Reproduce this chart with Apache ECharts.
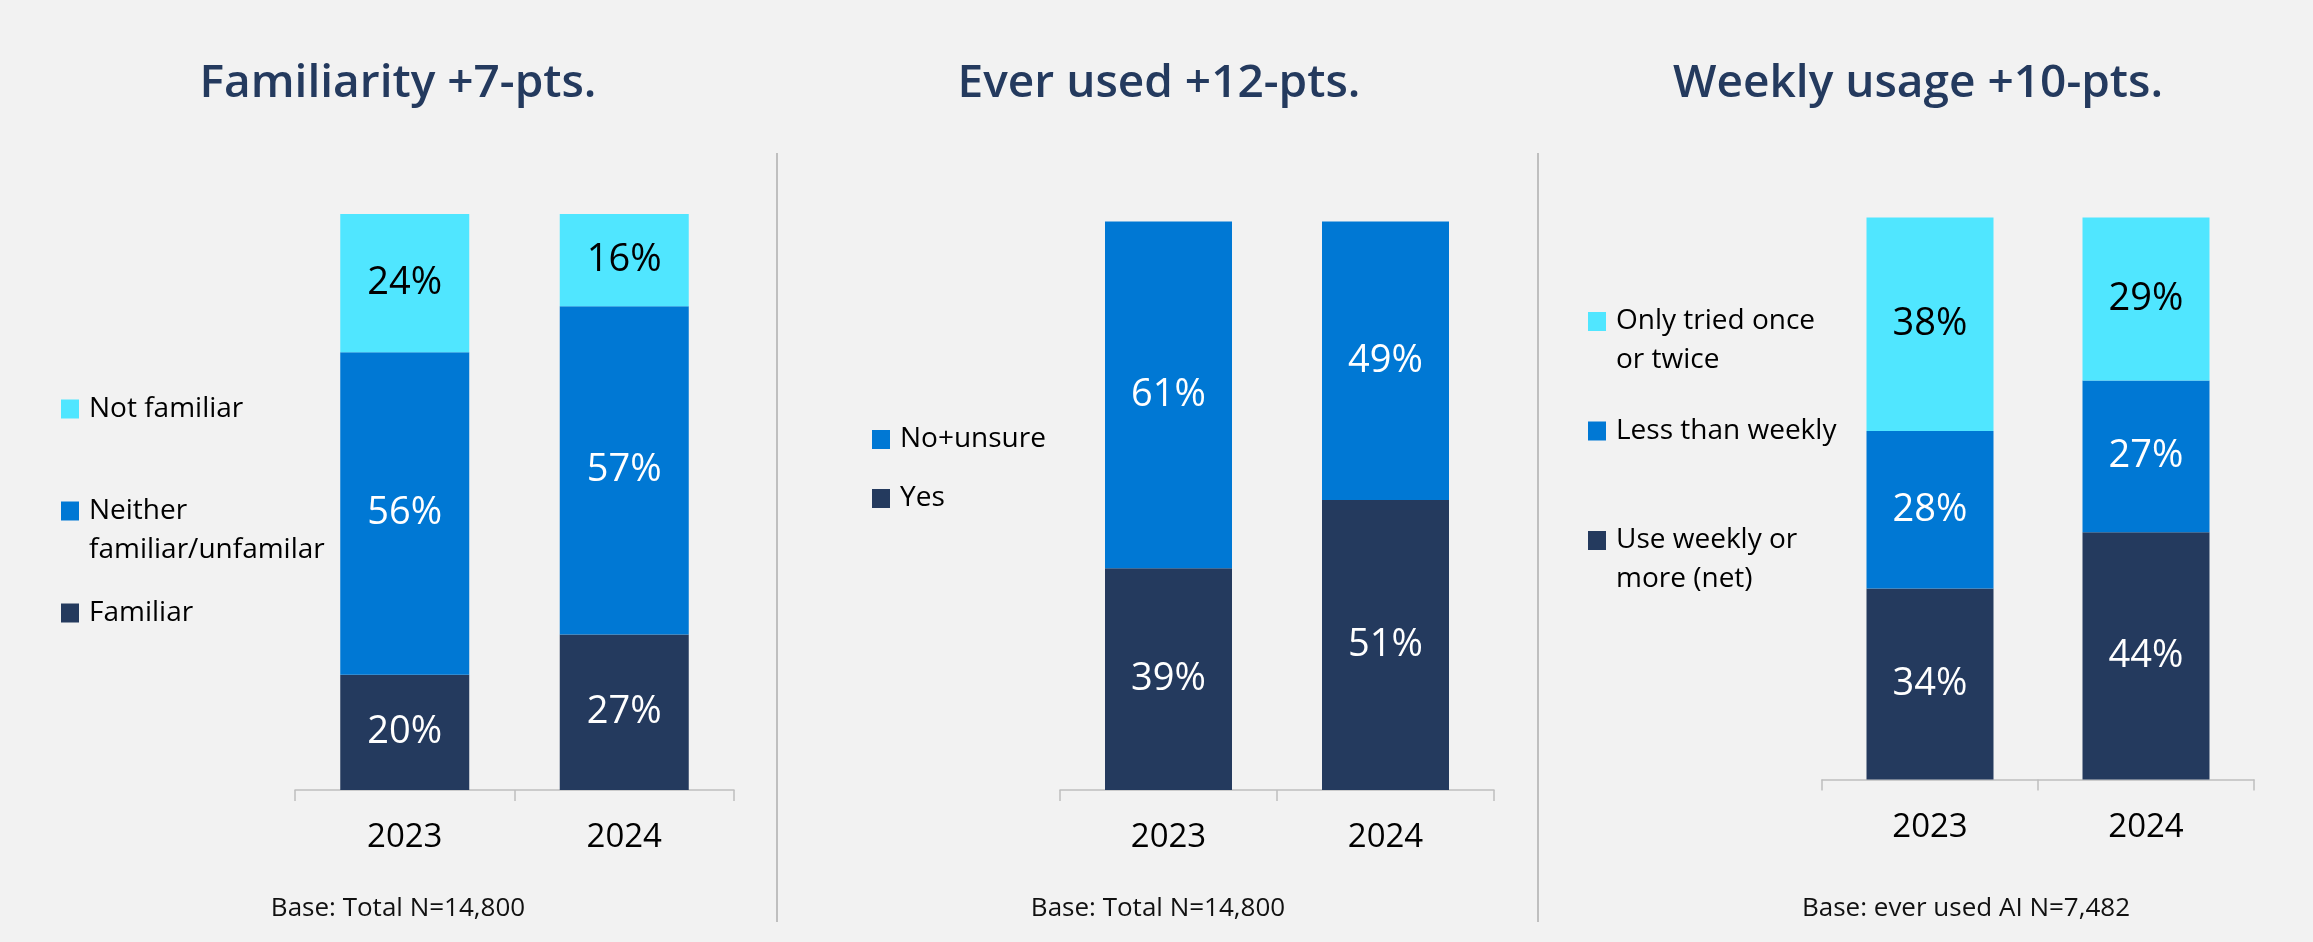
<!DOCTYPE html>
<html>
<head>
<meta charset="utf-8">
<script src="https://cdn.jsdelivr.net/npm/echarts@6/dist/echarts.min.js"></script>
<style>
html,body{margin:0;padding:0;background:#F2F2F2;}
#c{width:2313px;height:942px;}
</style>
</head>
<body>
<div id="c"></div>
<script>
// ---- data ----
const years = ['2023', '2024'];

const panelTitles = ['Familiarity +7-pts.', 'Ever used +12-pts.', 'Weekly usage +10-pts.'];
const baseNotes = ['Base: Total N=14,800', 'Base: Total N=14,800', 'Base: ever used AI N=7,482'];

const familiarNames = ['Familiar', 'Neither\nfamiliar/unfamilar', 'Not familiar'];
const familiar = [20, 27];
const neitherFamiliar = [56, 57];
const notFamiliar = [24, 16];

const everNames = ['Yes', 'No+unsure'];
const everYes = [39, 51];
const everNoUnsure = [61, 49];

const weeklyNames = ['Use weekly or\nmore (net)', 'Less than weekly', 'Only tried once\nor twice'];
const useWeekly = [34, 44];
const lessThanWeekly = [28, 27];
const onlyTried = [38, 29];

// ---- style ----
const FONT = '"Open Sans", "Noto Sans", sans-serif';
const NAVY = '#243A5E', BLUE = '#0078D4', CYAN = '#50E6FF';
const AXIS = '#BFBFBF';

const grids = [
  {left: 295, top: 214, width: 439, height: 576},
  {left: 1060, top: 221.6, width: 434, height: 568.4},
  {left: 1822, top: 217.4, width: 432, height: 562.2}
];
const barWidths = [129, 127, 127];

function xAxis(i) {
  return {
    type: 'category', gridIndex: i, data: years,
    axisLine: {lineStyle: {color: AXIS, width: 1.5}},
    axisTick: {show: true, length: 11, lineStyle: {color: AXIS, width: 1.5}},
    axisLabel: {fontSize: 33, color: '#000', fontFamily: FONT, margin: 31}
  };
}
function yAxis(i) {
  return {type: 'value', gridIndex: i, min: 0, max: 100, show: false};
}
function bar(name, data, color, labelColor, i) {
  return {
    type: 'bar', name: name, data: data, stack: 'p' + i,
    xAxisIndex: i, yAxisIndex: i, barWidth: barWidths[i],
    itemStyle: {color: color},
    label: {show: true, position: 'inside', formatter: '{c}%', fontSize: 38,
            color: labelColor, fontFamily: FONT},
    emphasis: {disabled: true}
  };
}
// multi-line legend names: first line aligned with the icon (blank line added above)
function legendItem(name, left, centerY) {
  const multi = name.indexOf('\n') >= 0;
  return {
    data: [name], left: left, top: multi ? centerY - 58.5 : centerY - 19.5,
    padding: 0, icon: 'rect', itemWidth: 18, itemHeight: 19,
    selectedMode: false,
    formatter: n => (multi ? ' \n' + n : n),
    textStyle: {fontSize: 28, color: '#000', fontFamily: FONT, lineHeight: 39,
                padding: [0, 0, 0, 5]}
  };
}
function txt(text, x, y, font, color) {
  return {type: 'text', x: x, y: y, silent: true,
    style: {text: text, font: font, fill: color, align: 'center', verticalAlign: 'middle',
            textAlign: 'center', textVerticalAlign: 'middle'}};
}

const titleX = [398, 1159, 1918];
const baseX = [398, 1158, 1966];

const graphic = [];
panelTitles.forEach((t, i) => graphic.push(txt(t, titleX[i], 84, '600 46px ' + FONT, NAVY)));
baseNotes.forEach((t, i) => graphic.push(txt(t, baseX[i], 909, '26px ' + FONT, '#111')));
[777, 1538].forEach(x => graphic.push({type: 'line', silent: true,
  shape: {x1: x, y1: 153, x2: x, y2: 922}, style: {stroke: AXIS, lineWidth: 2}}));

const option = {
  backgroundColor: '#F2F2F2',
  animation: false,
  grid: grids,
  xAxis: [xAxis(0), xAxis(1), xAxis(2)],
  yAxis: [yAxis(0), yAxis(1), yAxis(2)],
  legend: [
    legendItem(familiarNames[2], 61, 409),
    legendItem(familiarNames[1], 61, 511),
    legendItem(familiarNames[0], 61, 613),
    legendItem(everNames[1], 872, 439.5),
    legendItem(everNames[0], 872, 498.5),
    legendItem(weeklyNames[2], 1588, 321.5),
    legendItem(weeklyNames[1], 1588, 431),
    legendItem(weeklyNames[0], 1588, 540.5)
  ],
  series: [
    bar(familiarNames[0], familiar, NAVY, '#fff', 0),
    bar(familiarNames[1], neitherFamiliar, BLUE, '#fff', 0),
    bar(familiarNames[2], notFamiliar, CYAN, '#000', 0),
    bar(everNames[0], everYes, NAVY, '#fff', 1),
    bar(everNames[1], everNoUnsure, BLUE, '#fff', 1),
    bar(weeklyNames[0], useWeekly, NAVY, '#fff', 2),
    bar(weeklyNames[1], lessThanWeekly, BLUE, '#fff', 2),
    bar(weeklyNames[2], onlyTried, CYAN, '#000', 2)
  ],
  graphic: graphic
};
const chart = echarts.init(document.getElementById('c'), null, {renderer: 'canvas'});
chart.setOption(option);
</script>
</body>
</html>
